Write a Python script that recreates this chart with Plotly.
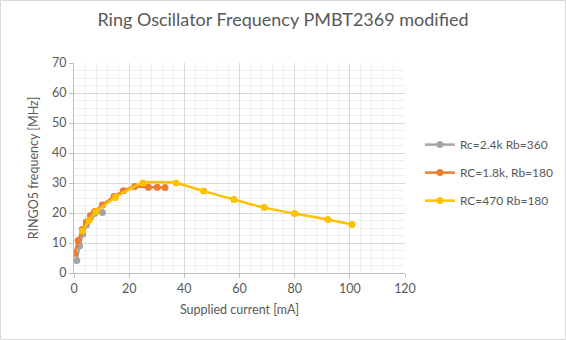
import plotly.graph_objects as go

# Data
gray_x = [1.0, 2.0, 3.2, 4.5, 6.0, 7.5, 10.3]
gray_y = [4.2, 9.0, 13.0, 16.0, 18.5, 19.8, 20.2]

orange_x = [0.2, 1.5, 3.0, 4.5, 6.0, 7.5, 10.3, 14.5, 17.9, 22.0, 27.0, 30.2, 33.0]
orange_y = [6.5, 10.8, 14.5, 17.0, 19.2, 20.5, 22.7, 25.5, 27.4, 28.8, 28.6, 28.6, 28.5]

yellow_x = [3.0, 5.5, 8.0, 15.0, 25.0, 37.0, 47.0, 58.0, 69.0, 80.0, 92.0, 100.8]
yellow_y = [14.0, 17.5, 20.5, 25.2, 30.0, 30.0, 27.3, 24.5, 21.8, 19.8, 17.8, 16.2]

names = ["Rc=2.4k Rb=360", "RC=1.8k, Rb=180", "RC=470 Rb=180"]
colors = ["#a5a5a5", "#ed7d31", "#ffc000"]
title = "Ring Oscillator Frequency PMBT2369 modified"
x_title = "Supplied current [mA]"
y_title = "RINGO5 frequency [MHz]"

series = [(gray_x, gray_y), (orange_x, orange_y), (yellow_x, yellow_y)]

fig = go.Figure()
for i, ((xs, ys), n, c) in enumerate(zip(series, names, colors)):
    fig.add_trace(go.Scatter(
        x=xs, y=ys, name=n, mode="lines+markers",
        line=dict(color=c, width=2.5, shape="spline", smoothing=0.6),
        marker=dict(color=c, size=7),
        legendgroup=f"g{i}",
    ))

font = "Lato, Open Sans, sans-serif"
L, R, T, B = 74, 161, 63, 67
W, H = 566, 340
pw, ph = W - L - R, H - T - B

fig.update_layout(
    width=W, height=H,
    margin=dict(l=L, r=R, t=T, b=B, autoexpand=False),
    paper_bgcolor="white", plot_bgcolor="white",
    font=dict(family=font, size=12, color="#595959"),
    title=dict(text=title, x=0.5, xref="container", xanchor="center", y=1 - 20 / H,
               yanchor="middle", font=dict(size=18, color="#595959", family=font)),
    showlegend=True,
    legend=dict(x=1.045, y=0.478, xanchor="left", yanchor="middle",
                font=dict(size=12, color="#595959"), tracegroupgap=9,
                bgcolor="rgba(0,0,0,0)"),
    shapes=[dict(type="rect", xref="paper", yref="paper",
                 x0=(0.5 - L) / pw, x1=(W - 0.5 - L) / pw,
                 y0=-(B - 0.5) / ph, y1=1 + (T - 0.5) / ph,
                 line=dict(color="#d9d9d9", width=1), layer="below")],
)
fig.update_xaxes(
    range=[0, 120], tickmode="linear", tick0=0, dtick=20,
    showgrid=True, gridcolor="#d9d9d9", gridwidth=1,
    minor=dict(dtick=4, showgrid=True, gridcolor="#efefef", gridwidth=1),
    showline=True, linecolor="#bfbfbf", ticks="outside", ticklen=4, tickcolor="#bfbfbf",
    zeroline=False,
    title=dict(text=x_title, font=dict(size=12.5, color="#595959"), standoff=10),
    tickfont=dict(size=12.5, color="#595959"),
)
fig.update_yaxes(
    range=[0, 70], tickmode="linear", tick0=0, dtick=10,
    showgrid=True, gridcolor="#d9d9d9", gridwidth=1,
    minor=dict(dtick=2.5, showgrid=True, gridcolor="#efefef", gridwidth=1),
    showline=True, linecolor="#bfbfbf", ticks="outside", ticklen=4, tickcolor="#bfbfbf",
    zeroline=False,
    title=dict(text=y_title, font=dict(size=12.5, color="#595959"), standoff=10),
    tickfont=dict(size=12.5, color="#595959"),
)

fig.write_html("out.html")
